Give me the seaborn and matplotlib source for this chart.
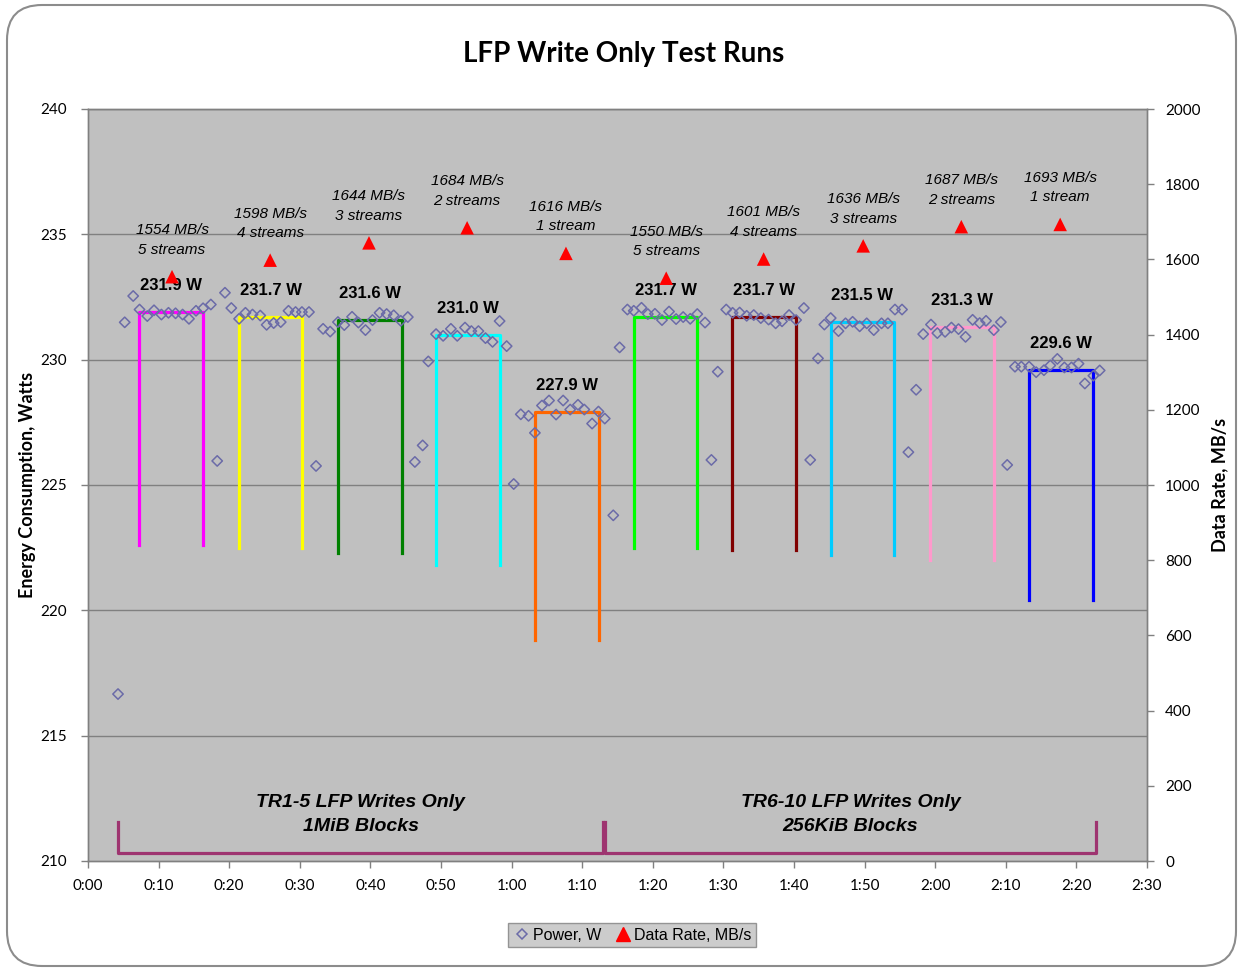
import matplotlib
matplotlib.use("Agg")
import matplotlib.pyplot as plt
import matplotlib.ticker as mticker
from matplotlib.lines import Line2D
from matplotlib.patches import FancyBboxPatch
import seaborn as sns

# power samples (minutes since start, watts)
power_time = [4.25, 5.2, 6.4, 7.3, 8.4, 9.35, 10.4, 11.4, 12.4, 13.4,
              14.3, 15.3, 16.3, 17.4, 18.3, 19.4, 20.3, 21.4, 22.3, 23.3,
              24.4, 25.3, 26.3, 27.3, 28.4, 29.4, 30.3, 31.3, 32.3, 33.3,
              34.3, 35.4, 36.3, 37.4, 38.3, 39.3, 40.3, 41.3, 42.3, 43.3,
              44.3, 45.3, 46.3, 47.4, 48.2, 49.3, 50.3, 51.4, 52.3, 53.4,
              54.3, 55.3, 56.3, 57.3, 58.3, 59.3, 60.3, 61.3, 62.4, 63.3,
              64.3, 65.3, 66.3, 67.3, 68.3, 69.4, 70.3, 71.4, 72.3, 73.2,
              74.4, 75.3, 76.4, 77.3, 78.4, 79.3, 80.3, 81.3, 82.3, 83.3,
              84.3, 85.3, 86.3, 87.4, 88.3, 89.2, 90.4, 91.3, 92.3, 93.3,
              94.3, 95.3, 96.4, 97.4, 98.3, 99.3, 100.3, 101.4, 102.3, 103.4,
              104.3, 105.2, 106.3, 107.3, 108.3, 109.3, 110.3, 111.3, 112.4, 113.3,
              114.3, 115.3, 116.2, 117.3, 118.3, 119.4, 120.3, 121.4, 122.3, 123.3,
              124.3, 125.3, 126.3, 127.2, 128.3, 129.3, 130.2, 131.3, 132.2, 133.3,
              134.3, 135.4, 136.3, 137.3, 138.3, 139.3, 140.3, 141.2, 142.4, 143.3]
power_watts = [216.66, 231.49, 232.54, 232.0, 231.74, 231.97, 231.8, 231.87, 231.85, 231.8,
               231.63, 231.95, 232.05, 232.2, 225.96, 232.67, 232.06, 231.63, 231.87, 231.8,
               231.76, 231.39, 231.46, 231.5, 231.95, 231.9, 231.9, 231.9, 225.76, 231.23,
               231.12, 231.5, 231.38, 231.71, 231.48, 231.18, 231.58, 231.87, 231.82, 231.77,
               231.55, 231.7, 225.92, 226.58, 229.93, 231.02, 230.95, 231.23, 230.95, 231.28,
               231.14, 231.14, 230.86, 230.71, 231.54, 230.54, 225.04, 227.82, 227.76, 227.08,
               228.17, 228.37, 227.81, 228.37, 228.01, 228.2, 228.01, 227.45, 227.93, 227.65,
               223.79, 230.49, 232.0, 231.95, 232.07, 231.82, 231.83, 231.58, 231.92, 231.62,
               231.7, 231.63, 231.82, 231.48, 226.0, 229.52, 232.0, 231.87, 231.88, 231.75,
               231.78, 231.66, 231.6, 231.45, 231.53, 231.78, 231.58, 232.06, 226.0, 230.05,
               231.4, 231.66, 231.14, 231.45, 231.51, 231.33, 231.45, 231.18, 231.45, 231.45,
               232.0, 232.0, 226.31, 228.8, 231.02, 231.4, 231.06, 231.11, 231.28, 231.22,
               230.91, 231.59, 231.46, 231.55, 231.18, 231.5, 225.8, 229.72, 229.72, 229.72,
               229.5, 229.58, 229.77, 230.03, 229.69, 229.69, 229.84, 229.05, 229.36, 229.57]

# test run windows and their average power
run_start = [7.2, 21.4, 35.4, 49.3, 63.3, 77.3, 91.2, 105.2, 119.3, 133.3]
run_end = [16.3, 30.3, 44.5, 58.4, 72.4, 86.3, 100.3, 114.2, 128.3, 142.4]
run_mean = [231.9, 231.7, 231.6, 231.0, 227.9, 231.7, 231.7, 231.5, 231.3, 229.6]
run_floor = [222.6, 222.5, 222.3, 221.8, 218.8, 222.5, 222.4, 222.2, 222.0, 220.4]
run_colors = ["#FF00FF", "#FFFF00", "#008000", "#00FFFF", "#FF6600",
              "#00FF00", "#800000", "#00CCFF", "#FF99CC", "#0000FF"]

# data rate per run
rate_time = [11.9, 25.8, 39.8, 53.7, 67.7, 81.9, 95.7, 109.8, 123.7, 137.7]
rate_mbs = [1554, 1598, 1644, 1684, 1616, 1550, 1601, 1636, 1687, 1693]
rate_streams = [5, 4, 3, 2, 1, 5, 4, 3, 2, 1]

# test run groups
group_start = [4.25, 73.2]
group_end = [73.0, 142.8]
group_labels = ["TR1-5 LFP Writes Only\n1MiB Blocks", "TR6-10 LFP Writes Only\n256KiB Blocks"]

UI = ["Lato", "DejaVu Sans"]
ARIAL = ["Liberation Sans", "DejaVu Sans"]
GRID = "#808080"

fig = plt.figure(figsize=(12.38, 9.69), dpi=100)
fig.patch.set_facecolor("white")
ax = fig.add_axes([88 / 1238, 1 - 861 / 969, (1147 - 88) / 1238, (861 - 109) / 969])
ax.set_facecolor("#C0C0C0")
ax2 = ax.twinx()

# outer chart border
fig.patches.append(FancyBboxPatch((0.07, 0.03), 12.29, 9.61,
                                  boxstyle="round,pad=0,rounding_size=0.35",
                                  transform=fig.dpi_scale_trans, fill=False,
                                  edgecolor="#8C8C8C", linewidth=1.5))

ax.set_axisbelow(True)
for yv in range(215, 241, 5):
    ax.axhline(yv, color=GRID, linewidth=1, zorder=0)

# run brackets
for s, e, m, f, c in zip(run_start, run_end, run_mean, run_floor, run_colors):
    ax.plot([s, s, e, e], [f, m, m, f], color=c, linewidth=2.3, zorder=2)
    ax.annotate("%.1f W" % m, xy=((s + e) / 2, m), xytext=(0, 19),
                textcoords="offset points", ha="center", va="center",
                fontsize=12, fontweight="bold", family=ARIAL, zorder=5)

# group brackets
for s, e, lab in zip(group_start, group_end, group_labels):
    ax.plot([s, s, e, e], [211.55, 210.32, 210.32, 211.55], color="#9E3470",
            linewidth=2.3, zorder=2)
    ax.text((s + e) / 2, 211.84, lab, ha="center", va="center", fontsize=14,
            fontweight="bold", fontstyle="italic", family=ARIAL, linespacing=1.55)

sns.scatterplot(x=power_time, y=power_watts, ax=ax, marker="D", s=28,
                facecolor="none", edgecolor="#6B6BA8", linewidth=1.1, zorder=4)

sns.scatterplot(x=rate_time, y=rate_mbs, ax=ax2, marker="^", s=95,
                color="#FF0000", edgecolor="none", zorder=4)
for t, r, n in zip(rate_time, rate_mbs, rate_streams):
    lab = "%d MB/s\n%d stream%s" % (r, n, "" if n == 1 else "s")
    ax2.annotate(lab, xy=(t, r), xytext=(0, 26.5), textcoords="offset points",
                 ha="center", va="center", fontsize=11, fontstyle="italic",
                 family=ARIAL, linespacing=1.5)

ax.set_xlim(0, 150)
ax.set_ylim(210, 240)
ax2.set_ylim(0, 2000)
ax.xaxis.set_major_locator(mticker.MultipleLocator(10))
ax.xaxis.set_major_formatter(mticker.FuncFormatter(lambda v, p: "%d:%02d" % (int(v) // 60, int(v) % 60)))
ax.yaxis.set_major_locator(mticker.MultipleLocator(5))
ax2.yaxis.set_major_locator(mticker.MultipleLocator(200))

for a in (ax, ax2):
    for sp in a.spines.values():
        sp.set_color(GRID)
        sp.set_linewidth(1)
    a.tick_params(colors=GRID, length=5, width=1, labelsize=11, labelcolor="black")
    for lab in a.get_xticklabels() + a.get_yticklabels():
        lab.set_family(UI)
ax.tick_params(axis="y", pad=10)
ax2.tick_params(axis="y", pad=8)
ax.tick_params(axis="x", pad=8)

ax.set_xlabel("")
ax.set_ylabel("Energy Consumption, Watts", fontsize=13, fontweight="bold", family=UI)
ax.yaxis.set_label_coords(-52 / 1059, 0.5)
ax2.set_ylabel("Data Rate, MB/s", fontsize=13, fontweight="bold", family=UI)
ax2.yaxis.set_label_coords(1 + 64 / 1059, 0.5)
fig.text(624 / 1238, 1 - 54 / 969, "LFP Write Only Test Runs", ha="center", va="center",
         fontsize=20, fontweight="bold", family=UI)

handles = [Line2D([], [], linestyle="", marker="D", markersize=5, markerfacecolor="none",
                  markeredgecolor="#6B6BA8", markeredgewidth=1.1),
           Line2D([], [], linestyle="", marker="^", markersize=10, color="#FF0000")]
leg = fig.legend(handles, ["Power, W", "Data Rate, MB/s"], loc="center",
                 bbox_to_anchor=(632 / 1238, 1 - 935 / 969), ncol=2, frameon=True,
                 fancybox=False, prop={"family": ARIAL, "size": 11.5},
                 handletextpad=0.05, columnspacing=0.8, handlelength=1.2,
                 borderpad=0.3)
leg.get_frame().set_facecolor("#C0C0C0")
leg.get_frame().set_edgecolor("#808080")

fig.savefig("out.png", dpi=100)
